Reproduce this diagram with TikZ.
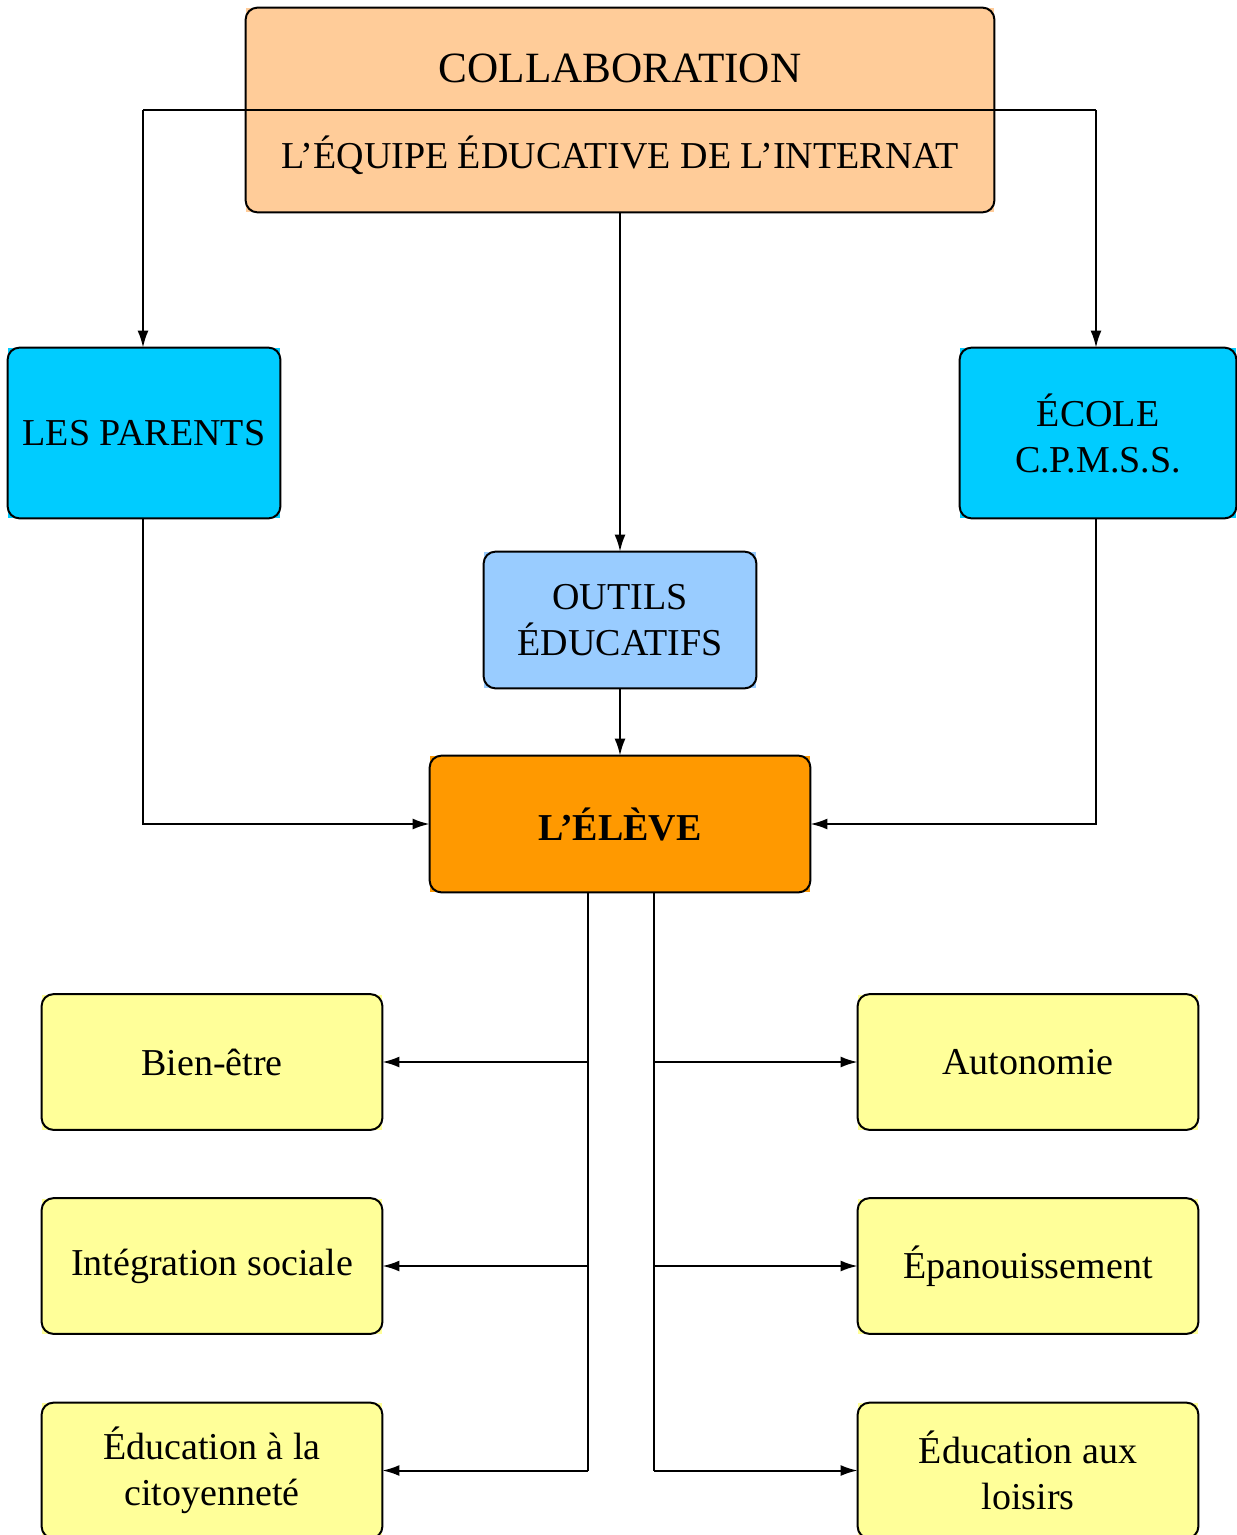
\documentclass[tikz,border=0pt]{standalone}
\usepackage{fontspec}
\setmainfont{Liberation Serif}
\usetikzlibrary{arrows.meta}
\definecolor{peach}{HTML}{FFCC99}
\definecolor{cyanbox}{HTML}{00CCFF}
\definecolor{lightblue}{HTML}{99CCFF}
\definecolor{orangebox}{HTML}{FF9900}
\definecolor{yellowbox}{HTML}{FFFF99}
\begin{document}
\begin{tikzpicture}[x=0.5pt,y=-0.5pt,
  box/.style={inner sep=0pt, align=center, font=\fontsize{19}{23}\selectfont},
  conn/.style={line width=1pt},
  arr/.style={conn,-{Latex[length=8.5pt,width=5.5pt]}},
  border/.style={line width=1pt, rounded corners=6pt}]
\useasboundingbox (0,0) rectangle (1236,1535);
% boxes
\node[box, fill=peach, minimum width=374pt, minimum height=102pt] (top) at (620,110) {};
\node[box, fill=cyanbox, minimum width=136pt, minimum height=85pt] (parents) at (144,433) {LES PARENTS};
\node[box, fill=cyanbox, minimum width=138pt, minimum height=85pt] (ecole) at (1098,433) {ÉCOLE\\C.P.M.S.S.};
\node[box, fill=lightblue, minimum width=136pt, minimum height=68pt] (outils) at (620,620) {OUTILS\\ÉDUCATIFS};
\node[box, fill=orangebox, minimum width=190pt, minimum height=68pt, font=\fontsize{19}{23}\selectfont\bfseries] (eleve) at (620,824) {L’ÉLÈVE};
\node[box, fill=yellowbox, minimum width=170pt, minimum height=67.5pt] (l1) at (212,1062) {Bien-être};
\node[box, fill=yellowbox, minimum width=170pt, minimum height=67.5pt] (l2) at (212,1266) {Intégration sociale};
\node[box, fill=yellowbox, minimum width=170pt, minimum height=67.5pt] (l3) at (212,1470.5) {Éducation à la\\citoyenneté};
\node[box, fill=yellowbox, minimum width=170pt, minimum height=67.5pt] (r1) at (1028,1062) {Autonomie};
\node[box, fill=yellowbox, minimum width=170pt, minimum height=67.5pt] (r2) at (1028,1266) {Épanouissement};
\node[box, fill=yellowbox, minimum width=170pt, minimum height=67.5pt] (r3) at (1028,1470.5) {Éducation aux\\loisirs};
\foreach \n in {top,parents,ecole,outils,eleve,l1,l2,l3,r1,r2,r3}
  \draw[border] (\n.south west) rectangle (\n.north east);
% texts in top box
\node[font=\fontsize{21.6}{25}\selectfont, inner sep=0pt] (collab) at (620,68) {COLLABORATION};
\node[font=\fontsize{19}{23}\selectfont, inner sep=0pt] (equipe) at (620,155) {L’ÉQUIPE ÉDUCATIVE DE L’INTERNAT};
% divider and connectors
\coordinate (dl) at (143,110);
\coordinate (dr) at (1096,110);
\draw[conn] (dl) -- (dr);
\draw[arr] (dl) -- (dl |- parents.north);
\draw[arr] (dr) -- (dr |- ecole.north);
\draw[arr] (top.south) -- (outils.north);
\draw[arr] (outils.south) -- (eleve.north);
\draw[arr] (parents.south -| dl) |- (eleve.west);
\draw[arr] (ecole.south -| dr) |- (eleve.east);
\coordinate (sl) at (588,892);
\coordinate (sr) at (654,892);
\coordinate (sle) at (588,1470.5);
\coordinate (sre) at (654,1470.5);
\draw[conn] (sl) -- (sle);
\draw[conn] (sr) -- (sre);
\draw[arr] (sl |- l1.east) -- (l1.east);
\draw[arr] (sl |- l2.east) -- (l2.east);
\draw[arr] (sle) -- (l3.east);
\draw[arr] (sr |- r1.west) -- (r1.west);
\draw[arr] (sr |- r2.west) -- (r2.west);
\draw[arr] (sre) -- (r3.west);
\end{tikzpicture}
\end{document}
